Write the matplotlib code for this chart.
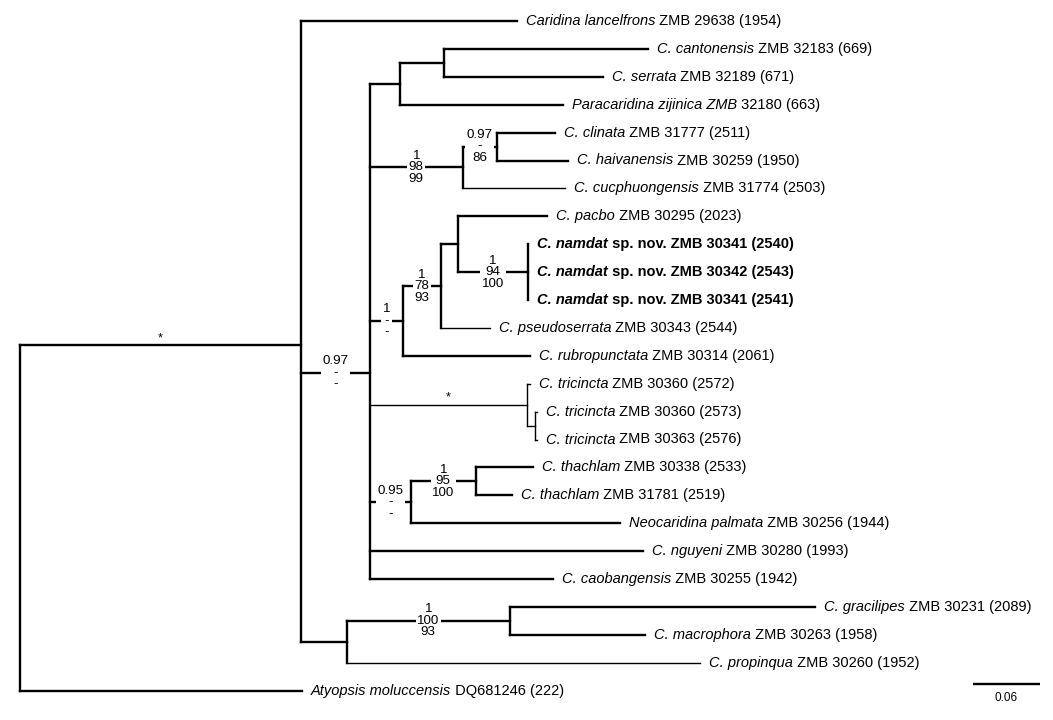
import matplotlib
matplotlib.use("Agg")
import matplotlib.pyplot as plt
from matplotlib.collections import LineCollection

plt.rcParams['font.family'] = ['Liberation Sans', 'DejaVu Sans']

# ---------------- data ----------------
# internal nodes: name, parent, depth (substitutions/site from root)
node_names  = ["root", "N1", "N2", "N3", "N4", "N5", "N6", "N7", "N8", "N9",
               "N10", "N11", "N12", "N13", "N14", "N15", "N16"]
node_parent = [None, "root", "N1", "N2", "N3", "N2", "N5", "N2", "N7", "N8",
               "N9", "N2", "N11", "N2", "N13", "N1", "N15"]
node_depth  = [0.0, 0.2516, 0.3133, 0.3402, 0.3796, 0.3966, 0.4270, 0.3429,
               0.3769, 0.3921, 0.4548, 0.4539, 0.4611, 0.3500, 0.4082,
               0.2927, 0.4387]

# leaves (top to bottom)
leaf_italic = ["Caridina lancelfrons", "C. cantonensis", "C. serrata",
               "Paracaridina zijinica ZMB", "C. clinata", "C. haivanensis",
               "C. cucphuongensis", "C. pacbo", "C. namdat", "C. namdat",
               "C. namdat", "C. pseudoserrata", "C. rubropunctata",
               "C. tricincta", "C. tricincta", "C. tricincta", "C. thachlam",
               "C. thachlam", "Neocaridina palmata", "C. nguyeni",
               "C. caobangensis", "C. gracilipes", "C. macrophora",
               "C. propinqua", "Atyopsis moluccensis"]
leaf_rest = [" ZMB 29638 (1954)", " ZMB 32183 (669)", " ZMB 32189 (671)",
             " 32180 (663)", " ZMB 31777 (2511)", " ZMB 30259 (1950)",
             " ZMB 31774 (2503)", " ZMB 30295 (2023)",
             " sp. nov. ZMB 30341 (2540)", " sp. nov. ZMB 30342 (2543)",
             " sp. nov. ZMB 30341 (2541)", " ZMB 30343 (2544)",
             " ZMB 30314 (2061)", " ZMB 30360 (2572)", " ZMB 30360 (2573)",
             " ZMB 30363 (2576)", " ZMB 30338 (2533)", " ZMB 31781 (2519)",
             " ZMB 30256 (1944)", " ZMB 30280 (1993)", " ZMB 30255 (1942)",
             " ZMB 30231 (2089)", " ZMB 30263 (1958)", " ZMB 30260 (1952)",
             " DQ681246 (222)"]
leaf_bold = [False] * 8 + [True] * 3 + [False] * 14
leaf_parent = ["N1", "N4", "N4", "N3", "N6", "N6", "N5", "N9", "N10", "N10",
               "N10", "N8", "N7", "N11", "N12", "N12", "N14", "N14", "N13",
               "N2", "N2", "N16", "N16", "N15", "root"]
leaf_depth = [0.4449, 0.5622, 0.5219, 0.4861, 0.4790, 0.4906, 0.4879,
              0.4718, 0.4548, 0.4548, 0.4548, 0.4208, 0.4566, 0.4566,
              0.4628, 0.4628, 0.4593, 0.4405, 0.5372, 0.5577, 0.4772,
              0.7117, 0.5595, 0.6088, 0.2525]

# support values on the branch leading to a node
support_nodes  = ["N1", "N2", "N5", "N6", "N7", "N8", "N10", "N11", "N13",
                  "N14", "N16"]
support_labels = ["*", "0.97\n-\n-", "1\n98\n99", "0.97\n-\n86", "1\n-\n-",
                  "1\n78\n93", "1\n94\n100", "*", "0.95\n-\n-", "1\n95\n100",
                  "1\n100\n93"]

scale_value = 0.06
scale_label = "0.06"

# ---------------- layout ----------------
n_leaves = len(leaf_italic)
depth = dict(zip(node_names, node_depth))
parent = dict(zip(node_names, node_parent))
children = {n: [] for n in node_names}
ypos = {}
for i, p in enumerate(leaf_parent):
    key = f"leaf{i}"
    ypos[key] = float(i)
    depth[key] = leaf_depth[i]
    parent[key] = p

# children in top-to-bottom order
for i, p in enumerate(leaf_parent):
    c = f"leaf{i}"
    cur = p
    while cur is not None:
        if c not in children[cur]:
            children[cur].append(c)
        c = cur
        cur = parent[cur]

def get_y(n):
    if n in ypos:
        return ypos[n]
    ys = [get_y(c) for c in children[n]]
    ypos[n] = sum(ys) / len(ys)
    return ypos[n]
get_y("root")

fig = plt.figure(figsize=(10.53, 7.2), dpi=100)
ax = fig.add_axes([0, 0, 1, 1])
px_per_unit = 67 / 0.06
ax.set_xlim(-20 / px_per_unit, 1033 / px_per_unit)
row_px = 27.9
ax.set_ylim((720 - 21) / row_px, -21 / row_px)
ax.axis('off')

thick = 1.7
thin = 1.0
thin_leaf = {6, 23, 11, 13, 14, 15}
thin_nodes = {"N11", "N12"}

segs, lws = [], []
for n in list(parent.keys()):
    p = parent[n]
    if p is None:
        continue
    segs.append([(depth[p], ypos[n]), (depth[n], ypos[n])])
    if n.startswith("leaf"):
        lws.append(thin if int(n[4:]) in thin_leaf else thick)
    else:
        lws.append(thin if n in thin_nodes else thick)
for n in node_names:
    ys = [ypos[c] for c in children[n]]
    segs.append([(depth[n], min(ys)), (depth[n], max(ys))])
    lws.append(thin if n in thin_nodes else thick)
lc = LineCollection(segs, linewidths=lws, colors='black', capstyle='projecting')
ax.add_collection(lc)

# leaf labels
fs = 10.5
for i in range(n_leaves):
    w = 'bold' if leaf_bold[i] else 'normal'
    t1 = ax.annotate(leaf_italic[i], xy=(leaf_depth[i], i), xytext=(6.5, 0),
                     textcoords='offset points', ha='left', va='center',
                     fontsize=fs, style='italic', weight=w)
    ax.annotate(leaf_rest[i], xy=(1, 0), xycoords=t1, ha='left', va='bottom',
                fontsize=fs, weight=w)

# support labels
for n, lab in zip(support_nodes, support_labels):
    xm = (depth[parent[n]] + depth[n]) / 2
    y = ypos[n]
    if lab == "*":
        ax.annotate(lab, xy=(xm, y), xytext=(0, 0.5), textcoords='offset points',
                    ha='center', va='bottom', fontsize=9)
    else:
        ax.text(xm, y, lab, ha='center', va='center', fontsize=9.6,
                linespacing=0.95, multialignment='center',
                bbox=dict(boxstyle='square,pad=0.12', fc='white', ec='none'))

# scale bar
sx = (973 - 20) / px_per_unit
sy = (684 - 21) / row_px
ax.plot([sx, sx + scale_value], [sy, sy], color='black', lw=1.7,
        solid_capstyle='butt')
ax.annotate(scale_label, xy=(sx + scale_value / 2, sy), xytext=(0, -6),
            textcoords='offset points', ha='center', va='top', fontsize=8.5)

fig.savefig("out.png", dpi=100)
